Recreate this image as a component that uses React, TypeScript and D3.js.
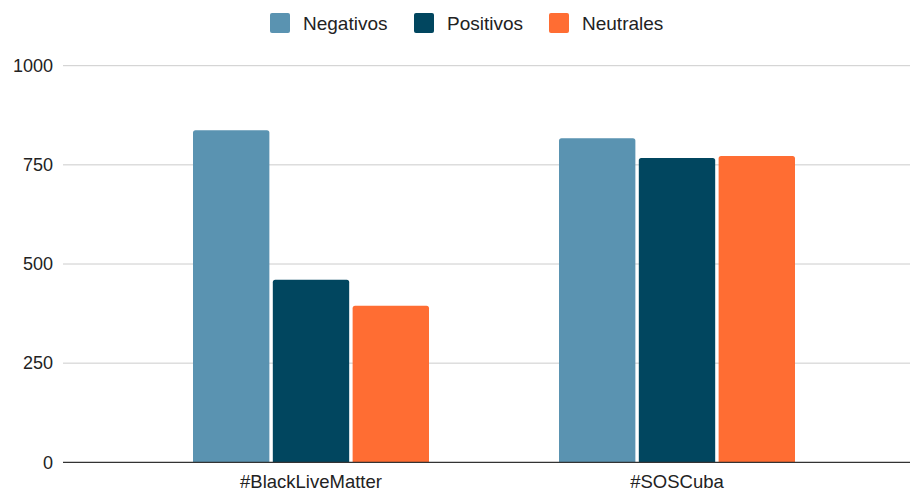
import React from "react";
import * as d3 from "d3";

const categories = ["#BlackLiveMatter", "#SOSCuba"];
const seriesNames = ["Negativos", "Positivos", "Neutrales"];
const negativos = [837, 817];
const positivos = [460, 767];
const neutrales = [395, 772];
const yTicks = [0, 250, 500, 750, 1000];
const colors = ["#5a93b1", "#01465f", "#ff6d33"];

const W = 911;
const H = 491;
const FONT = "'Liberation Sans', Arial, sans-serif";

function barPath(x: number, y: number, w: number, h: number, r: number) {
  const rr = Math.min(r, h, w / 2);
  return `M${x},${y + h}V${y + rr}Q${x},${y} ${x + rr},${y}H${x + w - rr}Q${x + w},${y} ${x + w},${y + rr}V${y + h}Z`;
}

export default function App() {
  const values = [negativos, positivos, neutrales];
  const y = d3.scaleLinear().domain([0, 1000]).range([462.3, 65.7]);
  const x0 = d3.scaleBand<string>().domain(categories).range([128, 860]);
  const groupW = 236;
  const x1 = d3.scaleBand<string>().domain(seriesNames).range([0, groupW]).paddingInner(0.043);
  const gridLeft = 63;
  const gridRight = 910;

  const legendX = [270, 414, 549];

  return (
    <div style={{ position: "absolute", left: 0, top: 0 }}>
      <svg width={W} height={H} style={{ display: "block", background: "#fff" }} fontFamily={FONT}>
        <rect width={W} height={H} fill="#fff" />
        {/* legend */}
        {seriesNames.map((s, i) => (
          <g key={s}>
            <rect x={legendX[i]} y={13} width={20} height={20} rx={2} fill={colors[i]} />
            <text x={legendX[i] + 33} y={30} fontSize={19} fill="#222">
              {s}
            </text>
          </g>
        ))}
        {/* gridlines */}
        {yTicks.map((t) => (
          <g key={t}>
            {t !== 0 && (
              <line x1={gridLeft} x2={gridRight} y1={y(t)} y2={y(t)} stroke="#cccccc" strokeWidth={1} />
            )}
            <text x={53} y={y(t)} dy="0.35em" textAnchor="end" fontSize={18} fill="#222">
              {t}
            </text>
          </g>
        ))}
        {/* bars */}
        {categories.map((c, ci) => {
          const gx = (x0(c) as number) + (x0.bandwidth() - groupW) / 2;
          return (
            <g key={c}>
              {seriesNames.map((s, si) => {
                const v = values[si][ci];
                const bx = gx + (x1(s) as number);
                const by = y(v);
                const bh = y(0) - by;
                return <path key={s} d={barPath(bx, by, x1.bandwidth(), bh, 2.5)} fill={colors[si]} />;
              })}
              <text
                x={(x0(c) as number) + x0.bandwidth() / 2}
                y={488}
                textAnchor="middle"
                fontSize={18.5}
                fill="#222"
              >
                {c}
              </text>
            </g>
          );
        })}
        {/* baseline */}
        <line x1={gridLeft} x2={gridRight} y1={y(0)} y2={y(0)} stroke="#333" strokeWidth={1.3} />
      </svg>
    </div>
  );
}
